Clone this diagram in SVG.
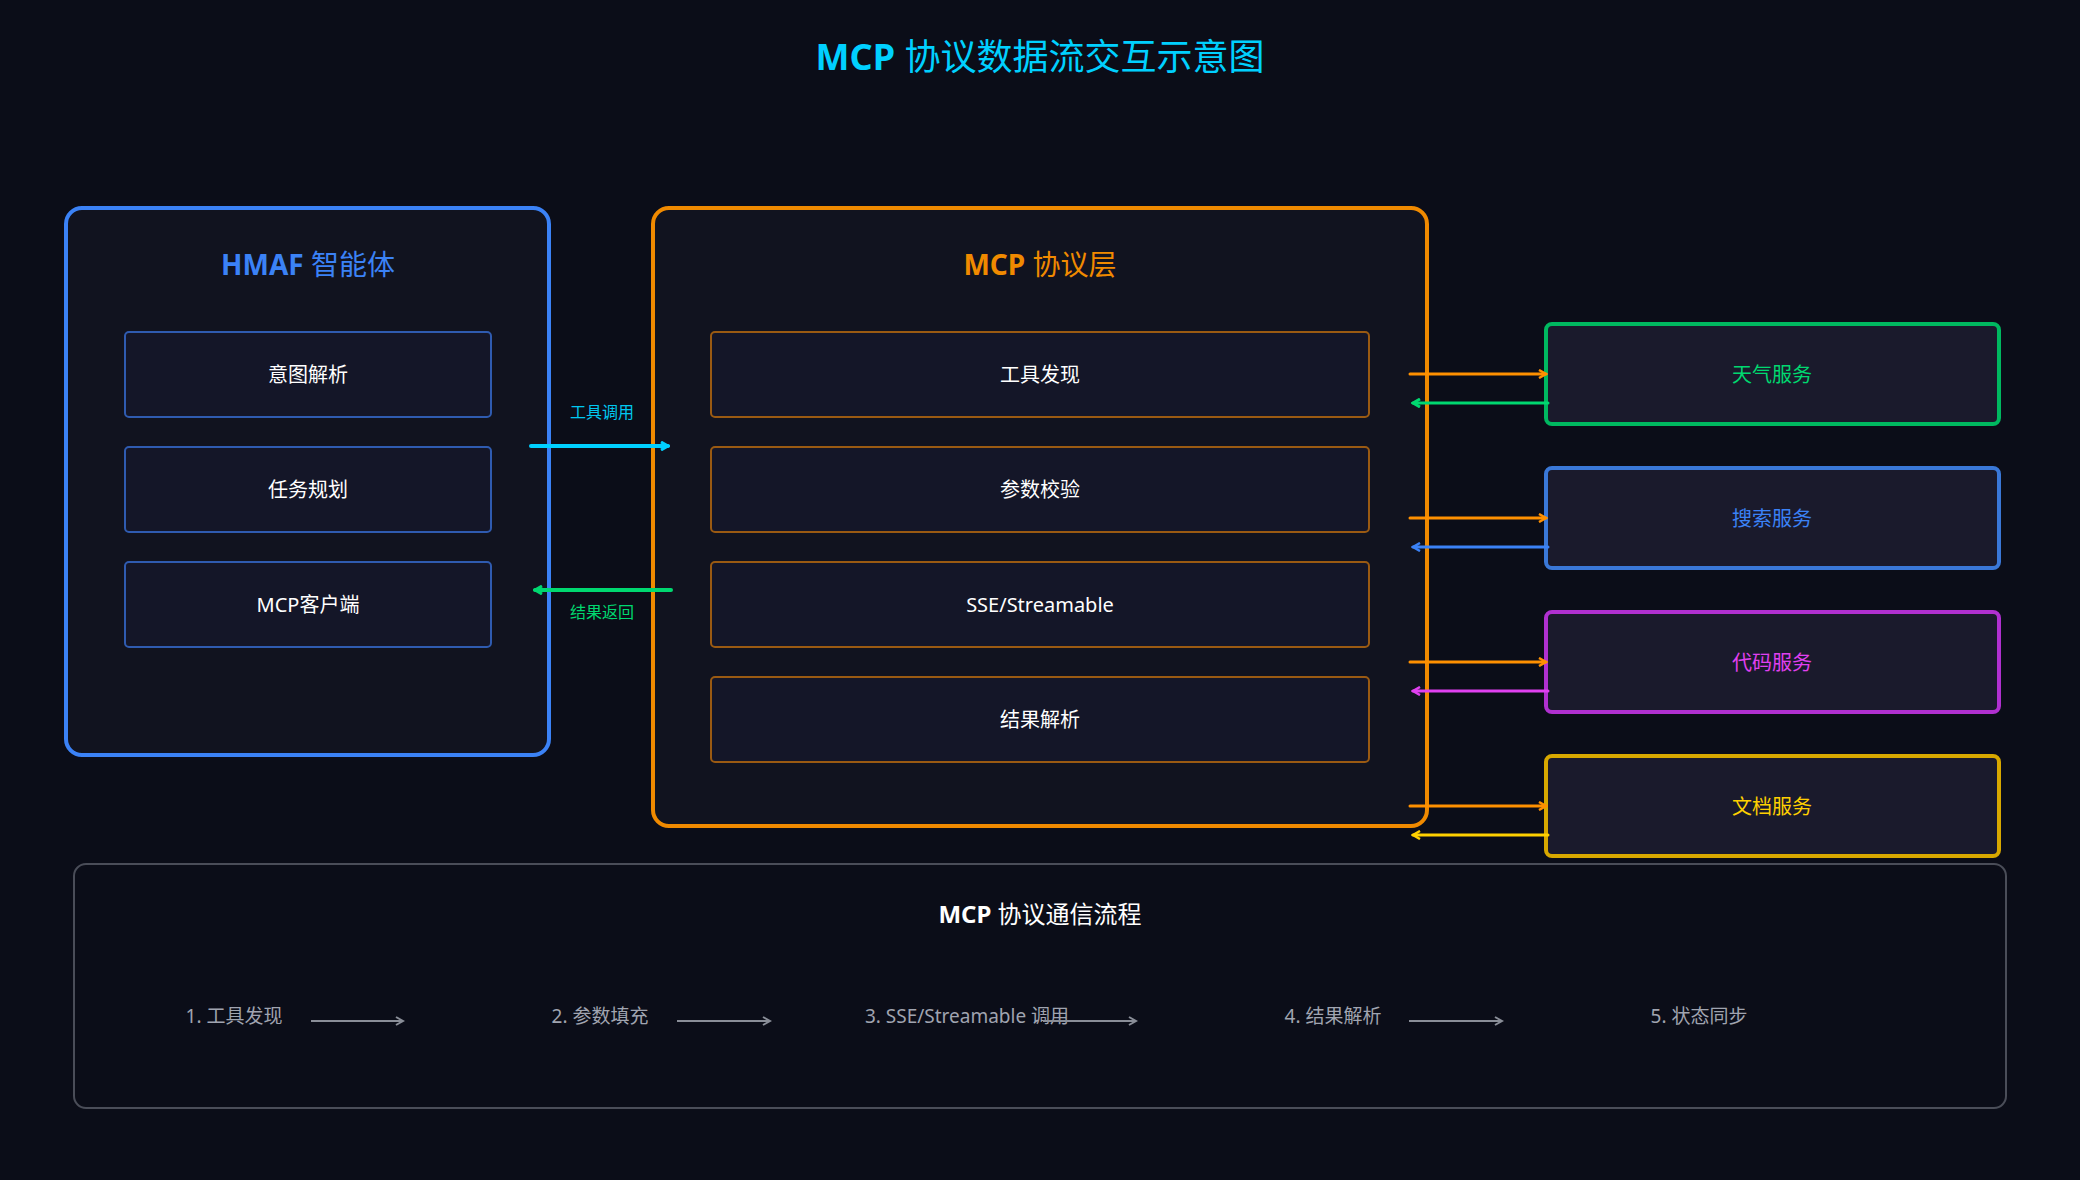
<svg xmlns="http://www.w3.org/2000/svg" width="2080" height="1180" viewBox="0 0 2080 1180">
<defs>
<style>
text{font-family:"Noto Sans","Noto Sans CJK SC",sans-serif;text-anchor:middle;dominant-baseline:central}
.inL{fill:#141628;stroke:#2f5bb0;stroke-width:2}
.inM{fill:#141628;stroke:#9a5a12;stroke-width:2}
.svc{fill:#1a1a2c;stroke-width:4}
.w{fill:#ffffff;font-size:20px}
.step{fill:#a0a4b0;font-size:19px}
</style>
<marker id="aCy" markerWidth="10" markerHeight="10" refX="8" refY="5" orient="auto" markerUnits="userSpaceOnUse"><path d="M1,1 L8,5 L1,9" fill="none" stroke="#00d0ff" stroke-width="3"/></marker>
<marker id="aGr" markerWidth="10" markerHeight="10" refX="8" refY="5" orient="auto" markerUnits="userSpaceOnUse"><path d="M1,1 L8,5 L1,9" fill="none" stroke="#00d870" stroke-width="3"/></marker>
<marker id="aOr" markerWidth="10" markerHeight="10" refX="8" refY="5" orient="auto" markerUnits="userSpaceOnUse"><path d="M1,1 L8,5 L1,9" fill="none" stroke="#ff9000" stroke-width="2.5"/></marker>
<marker id="aBl" markerWidth="10" markerHeight="10" refX="8" refY="5" orient="auto" markerUnits="userSpaceOnUse"><path d="M1,1 L8,5 L1,9" fill="none" stroke="#3b82f6" stroke-width="2.5"/></marker>
<marker id="aPu" markerWidth="10" markerHeight="10" refX="8" refY="5" orient="auto" markerUnits="userSpaceOnUse"><path d="M1,1 L8,5 L1,9" fill="none" stroke="#e040f0" stroke-width="2.5"/></marker>
<marker id="aYe" markerWidth="10" markerHeight="10" refX="8" refY="5" orient="auto" markerUnits="userSpaceOnUse"><path d="M1,1 L8,5 L1,9" fill="none" stroke="#ffd000" stroke-width="2.5"/></marker>
<marker id="aGy" markerWidth="10" markerHeight="10" refX="8" refY="5" orient="auto" markerUnits="userSpaceOnUse"><path d="M1,1 L8,5 L1,9" fill="none" stroke="#8a8e98" stroke-width="2"/></marker>
</defs>
<rect width="2080" height="1180" fill="#0b0d18"/>
<text x="1040" y="56" font-size="36" fill="#00d0ff"><tspan font-weight="bold">MCP</tspan> 协议数据流交互示意图</text>

<g id="hmaf">
<rect x="66" y="208" width="483" height="547" rx="16" fill="#11131f" stroke="#3b82f6" stroke-width="4"/>
<text x="308" y="264" font-size="28" fill="#3b82f6"><tspan font-weight="bold">HMAF</tspan> 智能体</text>
<rect class="inL" x="125" y="332" width="366" height="85" rx="4"/><text class="w" x="308" y="374">意图解析</text>
<rect class="inL" x="125" y="447" width="366" height="85" rx="4"/><text class="w" x="308" y="489">任务规划</text>
<rect class="inL" x="125" y="562" width="366" height="85" rx="4"/><text class="w" x="308" y="604">MCP客户端</text>
</g>

<g id="mcp">
<rect x="653" y="208" width="774" height="618" rx="16" fill="#11131f" stroke="#f08a00" stroke-width="4"/>
<text x="1040" y="264" font-size="28" fill="#f08a00"><tspan font-weight="bold">MCP</tspan> 协议层</text>
<rect class="inM" x="711" y="332" width="658" height="85" rx="4"/><text class="w" x="1040" y="374">工具发现</text>
<rect class="inM" x="711" y="447" width="658" height="85" rx="4"/><text class="w" x="1040" y="489">参数校验</text>
<rect class="inM" x="711" y="562" width="658" height="85" rx="4"/><text class="w" x="1040" y="604">SSE/Streamable</text>
<rect class="inM" x="711" y="677" width="658" height="85" rx="4"/><text class="w" x="1040" y="719">结果解析</text>
</g>

<g id="svc-weather"><rect class="svc" x="1546" y="324" width="453" height="100" rx="6" stroke="#00b860"/><text x="1772" y="374" font-size="20" fill="#00d870">天气服务</text></g>
<g id="svc-search"><rect class="svc" x="1546" y="468" width="453" height="100" rx="6" stroke="#3a78d8"/><text x="1772" y="518" font-size="20" fill="#3b82f6">搜索服务</text></g>
<g id="svc-code"><rect class="svc" x="1546" y="612" width="453" height="100" rx="6" stroke="#b030d0"/><text x="1772" y="662" font-size="20" fill="#e040f0">代码服务</text></g>
<g id="svc-doc"><rect class="svc" x="1546" y="756" width="453" height="100" rx="6" stroke="#d8a800"/><text x="1772" y="806" font-size="20" fill="#ffd000">文档服务</text></g>

<g id="connectors" fill="none" stroke-linecap="round">
<line x1="531" y1="446" x2="668" y2="446" stroke="#00d0ff" stroke-width="4" marker-end="url(#aCy)"/>
<text x="602" y="412" font-size="16" fill="#00c8f0" stroke="none">工具调用</text>
<line x1="671" y1="590" x2="535" y2="590" stroke="#00d870" stroke-width="4" marker-end="url(#aGr)"/>
<text x="602" y="612" font-size="16" fill="#00d870" stroke="none">结果返回</text>
<line x1="1410" y1="374" x2="1546" y2="374" stroke="#ff9000" stroke-width="3" marker-end="url(#aOr)"/>
<line x1="1548" y1="403" x2="1413" y2="403" stroke="#00d870" stroke-width="3" marker-end="url(#aGr)"/>
<line x1="1410" y1="518" x2="1546" y2="518" stroke="#ff9000" stroke-width="3" marker-end="url(#aOr)"/>
<line x1="1548" y1="547" x2="1413" y2="547" stroke="#3b82f6" stroke-width="3" marker-end="url(#aBl)"/>
<line x1="1410" y1="662" x2="1546" y2="662" stroke="#ff9000" stroke-width="3" marker-end="url(#aOr)"/>
<line x1="1548" y1="691" x2="1413" y2="691" stroke="#e040f0" stroke-width="3" marker-end="url(#aPu)"/>
<line x1="1410" y1="806" x2="1546" y2="806" stroke="#ff9000" stroke-width="3" marker-end="url(#aOr)"/>
<line x1="1548" y1="835" x2="1413" y2="835" stroke="#ffd000" stroke-width="3" marker-end="url(#aYe)"/>
</g>

<g id="flow">
<rect x="74" y="864" width="1932" height="244" rx="12" fill="#0b0d18" stroke="#4a4d58" stroke-width="2"/>
<text x="1040" y="913" font-size="24" fill="#ffffff"><tspan font-weight="bold">MCP</tspan> 协议通信流程</text>
<text class="step" x="234" y="1016">1. 工具发现</text>
<text class="step" x="600" y="1016">2. 参数填充</text>
<text class="step" x="967" y="1016">3. SSE/Streamable 调用</text>
<text class="step" x="1333" y="1016">4. 结果解析</text>
<text class="step" x="1699" y="1016">5. 状态同步</text>
<g stroke="#8a8e98" stroke-width="2" fill="none">
<line x1="311" y1="1021" x2="403" y2="1021" marker-end="url(#aGy)"/>
<line x1="677" y1="1021" x2="770" y2="1021" marker-end="url(#aGy)"/>
<line x1="1043" y1="1021" x2="1136" y2="1021" marker-end="url(#aGy)"/>
<line x1="1409" y1="1021" x2="1502" y2="1021" marker-end="url(#aGy)"/>
</g>
</g>
</svg>
